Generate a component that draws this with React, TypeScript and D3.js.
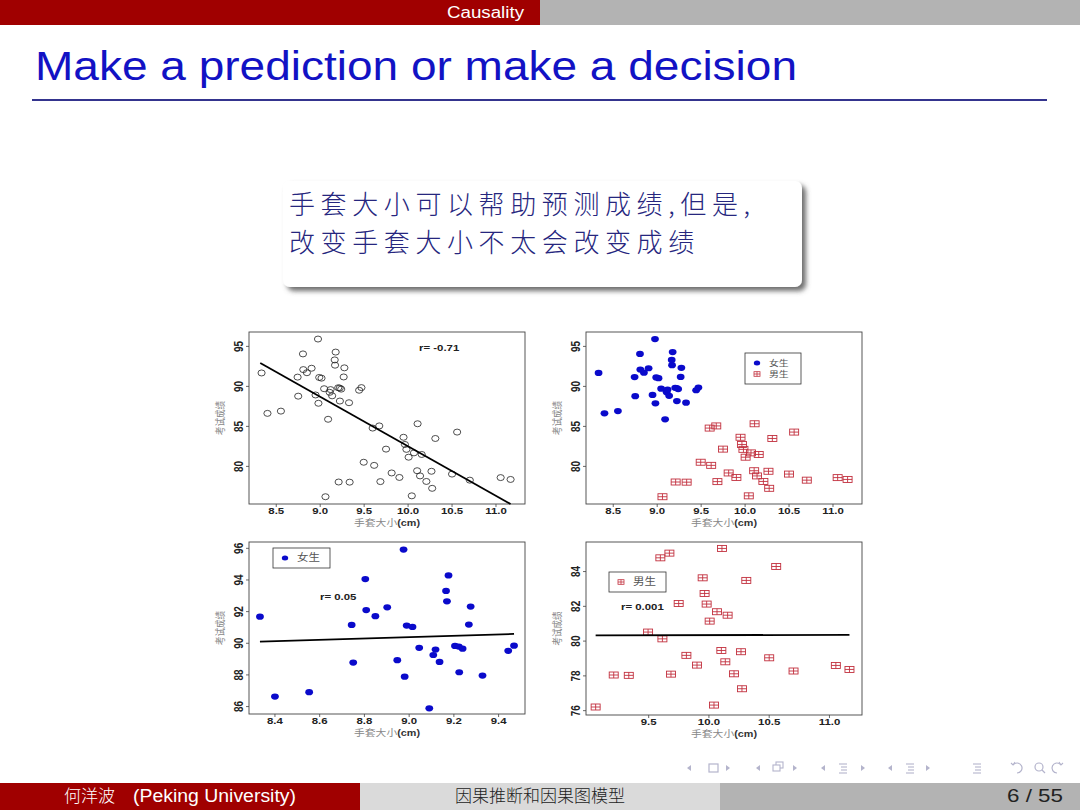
import React from 'react';
import * as d3 from 'd3';

// ---- data ----
const femaleX = [8.333, 8.40, 8.553, 8.743, 8.75, 8.804, 8.808, 8.849, 8.902, 8.947, 8.975, 8.98, 8.989, 9.015, 9.045, 9.09, 9.108, 9.118, 9.136, 9.165, 9.169, 9.176, 9.205, 9.222, 9.224, 9.239, 9.267, 9.275, 9.328, 9.443, 9.469];
const femaleY = [91.68, 86.63, 86.91, 91.16, 88.78, 94.06, 92.10, 91.71, 92.27, 88.93, 95.92, 87.89, 91.12, 91.03, 89.71, 85.89, 89.26, 89.60, 88.82, 93.31, 92.65, 94.29, 89.83, 89.79, 88.17, 89.66, 91.18, 92.32, 87.96, 89.52, 89.85];
const maleX = [9.06, 9.21, 9.335, 9.495, 9.597, 9.614, 9.672, 9.685, 9.749, 9.813, 9.901, 9.948, 9.964, 9.981, 10.006, 10.042, 10.067, 10.108, 10.103, 10.136, 10.155, 10.208, 10.274, 10.266, 10.31, 10.50, 10.558, 10.702, 11.053, 11.166];
const maleY = [76.21, 78.05, 78.03, 80.52, 84.79, 80.13, 85.06, 78.10, 82.16, 79.18, 78.62, 83.64, 82.74, 82.13, 81.15, 76.32, 81.69, 85.33, 79.46, 78.81, 81.49, 78.12, 77.26, 79.39, 83.49, 79.04, 84.29, 78.28, 78.60, 78.37];

const fitAllX = [8.318, 11.166];
const fitAllY = [92.92, 75.29];
const fitFemaleX = [8.333, 9.469];
const fitFemaleY = [90.10, 90.59];
const fitMaleX = [9.06, 11.166];
const fitMaleY = [80.33, 80.36];

const domainAllX = [8.19, 11.33];
const domainAllY = [75.3, 96.8];
const domainFemX = [8.284, 9.518];
const domainFemY = [85.53, 96.4];
const domainMaleX = [8.98, 11.27];
const domainMaleY = [75.75, 85.7];

const ticksAllX = [8.5, 9.0, 9.5, 10.0, 10.5, 11.0];
const ticksAllY = [80, 85, 90, 95];
const ticksFemX = [8.4, 8.6, 8.8, 9.0, 9.2, 9.4];
const ticksFemY = [86, 88, 90, 92, 94, 96];
const ticksMaleX = [9.5, 10.0, 10.5, 11.0];
const ticksMaleY = [76, 78, 80, 82, 84];

const rLabels = ['r= -0.71', 'r= 0.05', 'r= 0.001'];
const legendFemale = '女生';
const legendMale = '男生';
const xTitle = '手套大小';
const yTitle = '考试成绩';

const SANS = 'Liberation Sans, Arial, sans-serif';
const CJK = 'Noto Sans CJK SC, sans-serif';
const BLUE = '#0a0acb';
const RED = '#c2303e';

type Box = { x0: number; y0: number; x1: number; y1: number };
type Series = { xs: number[]; ys: number[]; kind: 'open' | 'blue' | 'red' };

function Marker({ kind, cx, cy }: { kind: string; cx: number; cy: number }) {
  if (kind === 'open') return <ellipse cx={cx} cy={cy} rx={3.6} ry={3} fill="none" stroke="#222" strokeWidth={0.8} />;
  if (kind === 'blue') return <ellipse cx={cx} cy={cy} rx={3.9} ry={3.1} fill={BLUE} />;
  return (
    <g stroke={RED} strokeWidth={0.9} fill="none">
      <rect x={cx - 4.5} y={cy - 3} width={9} height={6} />
      <line x1={cx - 4.5} x2={cx + 4.5} y1={cy} y2={cy} />
      <line x1={cx} x2={cx} y1={cy - 3} y2={cy + 3} />
    </g>
  );
}

function SText({ x, y, anchor = 'start', size = 10, weight = 'bold', fill = '#222', family = SANS, children }: any) {
  return (
    <text transform={`translate(${x},${y}) scale(1.2,1)`} textAnchor={anchor} fontSize={size} fontWeight={weight} fill={fill} fontFamily={family}>
      {children}
    </text>
  );
}

function Panel({ box, xDomain, yDomain, xTicks, yTicks, series, fitX, fitY, rText, rPos, legend }: any) {
  const x = d3.scaleLinear().domain(xDomain).range([box.x0, box.x1]);
  const y = d3.scaleLinear().domain(yDomain).range([box.y1, box.y0]);
  const fmtX = d3.format('.1f');
  const line = d3.line<number>().x((_, i) => x(fitX[i])).y((_, i) => y(fitY[i]));
  const cx = (box.x0 + box.x1) / 2;
  const cy = (box.y0 + box.y1) / 2;
  const n = legend ? legend.items.length : 0;
  const rowY = (i: number) => legend.y + legend.h / 2 + (i - (n - 1) / 2) * 11;
  return (
    <g>
      <rect x={box.x0} y={box.y0} width={box.x1 - box.x0} height={box.y1 - box.y0} fill="#fff" stroke="#444" strokeWidth={0.9} />
      {xTicks.map((t: number) => (
        <g key={'xt' + t}>
          <line x1={x(t)} x2={x(t)} y1={box.y1} y2={box.y1 + 3} stroke="#444" strokeWidth={0.8} />
          <SText x={x(t)} y={box.y1 + 9.5} anchor="middle" size={9.5}>{fmtX(t)}</SText>
        </g>
      ))}
      {yTicks.map((t: number) => (
        <g key={'yt' + t}>
          <line x1={box.x0 - 3} x2={box.x0} y1={y(t)} y2={y(t)} stroke="#444" strokeWidth={0.8} />
          <text transform={`translate(${box.x0 - 6},${y(t)}) rotate(-90) scale(1,1.2)`} textAnchor="middle" fontSize={10} fontWeight="bold" fill="#222" fontFamily={SANS}>{String(t)}</text>
        </g>
      ))}
      <text transform={`translate(${cx},${box.y1 + 21.5}) scale(1.2,1)`} textAnchor="middle" fontSize={9}>
        <tspan fontFamily={CJK} fill="#888">{xTitle}</tspan>
        <tspan fontFamily={SANS} fontWeight="bold" fill="#333">(cm)</tspan>
      </text>
      <text transform={`translate(${box.x0 - 25},${cy}) rotate(-90) scale(1,1.2)`} textAnchor="middle" fontSize={8.5} fill="#8a8a8a" fontFamily={CJK}>{yTitle}</text>
      {series.map((s: Series, si: number) =>
        s.xs.map((v, i) => <Marker key={si + '-' + i} kind={s.kind} cx={x(v)} cy={y(s.ys[i])} />)
      )}
      {fitX && <path d={line(fitX) || ''} fill="none" stroke="#000" strokeWidth={1.8} />}
      {rText && <SText x={rPos[0]} y={rPos[1]} size={9.5}>{rText}</SText>}
      {legend && (
        <g>
          <rect x={legend.x} y={legend.y} width={legend.w} height={legend.h} fill="#fff" stroke="#333" strokeWidth={0.8} />
          {legend.items.map((it: any, i: number) => (
            <g key={'lg' + i}>
              {it.kind === 'blue' ? (
                <ellipse cx={legend.x + 12} cy={rowY(i)} rx={3.2} ry={2.5} fill={BLUE} />
              ) : (
                <g stroke={RED} strokeWidth={0.8} fill="none">
                  <rect x={legend.x + 9} y={rowY(i) - 2.3} width={6} height={4.6} />
                  <line x1={legend.x + 12} x2={legend.x + 12} y1={rowY(i) - 2.3} y2={rowY(i) + 2.3} />
                  <line x1={legend.x + 9} x2={legend.x + 15} y1={rowY(i)} y2={rowY(i)} />
                </g>
              )}
              <text transform={`translate(${legend.x + 24},${rowY(i) + (n > 1 ? 2.8 : 3.4)}) scale(${n > 1 ? 1.3 : 1.15},1)`} fontSize={n > 1 ? 7.6 : 10} fill="#555" fontFamily={CJK}>{it.label}</text>
            </g>
          ))}
        </g>
      )}
    </g>
  );
}

function NavIcons() {
  const c = '#b4b4cc';
  const cy = 768;
  const left = [689, 758, 823, 890];
  const right = [728, 795, 863, 928];
  return (
    <g fill={c} stroke={c}>
      {left.map((v) => <path key={'l' + v} d={`M${v + 2},${cy - 3} L${v - 2},${cy} L${v + 2},${cy + 3} Z`} stroke="none" />)}
      {right.map((v) => <path key={'r' + v} d={`M${v - 2},${cy - 3} L${v + 2},${cy} L${v - 2},${cy + 3} Z`} stroke="none" />)}
      <rect x={709} y={764} width={9} height={8} fill="none" strokeWidth={1.2} />
      <rect x={776} y={762} width={7} height={6} fill="none" strokeWidth={1.1} />
      <rect x={773} y={765} width={7} height={6} fill="#fff" strokeWidth={1.1} />
      {[843, 910, 977].map((v) => (
        <g key={'m' + v} strokeWidth={1.1}>
          <line x1={v - 4} x2={v + 4} y1={cy - 4} y2={cy - 4} />
          <line x1={v - 2} x2={v + 4} y1={cy - 1} y2={cy - 1} />
          <line x1={v - 2} x2={v + 4} y1={cy + 2} y2={cy + 2} />
          <line x1={v - 4} x2={v + 4} y1={cy + 5} y2={cy + 5} />
        </g>
      ))}
      <path d={`M1013,${cy - 3} A5,5 0 1,1 1017,${cy + 5}`} fill="none" strokeWidth={1.2} />
      <path d={`M1011,${cy - 5} L1013,${cy - 3} L1015,${cy - 6}`} fill="none" strokeWidth={1.1} />
      <circle cx={1039} cy={cy - 1} r={4} fill="none" strokeWidth={1.2} />
      <line x1={1042} y1={cy + 2} x2={1045} y2={cy + 5} strokeWidth={1.3} />
      <path d={`M1061,${cy - 3} A5,5 0 1,0 1057,${cy + 5}`} fill="none" strokeWidth={1.2} />
      <path d={`M1063,${cy - 5} L1061,${cy - 3} L1059,${cy - 6}`} fill="none" strokeWidth={1.1} />
    </g>
  );
}

export default function App() {
  const box1: Box = { x0: 249, y0: 332, x1: 525, y1: 504 };
  const box2: Box = { x0: 586, y0: 332, x1: 862, y1: 504 };
  const box3: Box = { x0: 249, y0: 542, x1: 525, y1: 714 };
  const box4: Box = { x0: 586, y0: 542, x1: 862, y1: 715 };
  return (
    <svg width={1080} height={810} style={{ position: 'absolute', left: 0, top: 0, background: '#fff' }} xmlns="http://www.w3.org/2000/svg">
      <defs>
        <filter id="shadow" x="-10%" y="-20%" width="130%" height="150%">
          <feDropShadow dx={4} dy={4} stdDeviation={2.8} floodColor="#555" floodOpacity={0.85} />
        </filter>
      </defs>
      <rect x={0} y={0} width={1080} height={810} fill="#fff" />
      {/* header */}
      <rect x={0} y={0} width={540} height={25} fill="#a00000" />
      <rect x={540} y={0} width={540} height={25} fill="#b3b3b3" />
      <text x={447} y={18} fontSize={16} fill="#fff" fontFamily={SANS} textLength={77} lengthAdjust="spacingAndGlyphs">Causality</text>
      {/* title */}
      <text x={35} y={80} fontSize={40} fill="#1212c4" fontFamily={SANS} textLength={762} lengthAdjust="spacingAndGlyphs">Make a prediction or make a decision</text>
      <rect x={32} y={99} width={1015} height={2} fill="#34348e" />
      {/* callout */}
      <rect x={283} y={181} width={519} height={106} rx={7} fill="#fff" filter="url(#shadow)" />
      <text x={289} y={214} fontSize={26} fill="#26267e" fontFamily={CJK} fontWeight={300} letterSpacing={5.6}>手套大小可以帮助预测成绩,但是,</text>
      <text x={289} y={252} fontSize={26} fill="#26267e" fontFamily={CJK} fontWeight={300} letterSpacing={5.6}>改变手套大小不太会改变成绩</text>
      {/* panels */}
      <Panel box={box1} xDomain={domainAllX} yDomain={domainAllY} xTicks={ticksAllX} yTicks={ticksAllY}
        series={[{ xs: femaleX, ys: femaleY, kind: 'open' }, { xs: maleX, ys: maleY, kind: 'open' }]}
        fitX={fitAllX} fitY={fitAllY} rText={rLabels[0]} rPos={[419, 351]} />
      <Panel box={box2} xDomain={domainAllX} yDomain={domainAllY} xTicks={ticksAllX} yTicks={ticksAllY}
        series={[{ xs: femaleX, ys: femaleY, kind: 'blue' }, { xs: maleX, ys: maleY, kind: 'red' }]}
        legend={{ x: 745, y: 353, w: 56, h: 31, items: [{ kind: 'blue', label: legendFemale }, { kind: 'red', label: legendMale }] }} />
      <Panel box={box3} xDomain={domainFemX} yDomain={domainFemY} xTicks={ticksFemX} yTicks={ticksFemY}
        series={[{ xs: femaleX, ys: femaleY, kind: 'blue' }]}
        fitX={fitFemaleX} fitY={fitFemaleY} rText={rLabels[1]} rPos={[320, 600]}
        legend={{ x: 273, y: 548, w: 57, h: 20, items: [{ kind: 'blue', label: legendFemale }] }} />
      <Panel box={box4} xDomain={domainMaleX} yDomain={domainMaleY} xTicks={ticksMaleX} yTicks={ticksMaleY}
        series={[{ xs: maleX, ys: maleY, kind: 'red' }]}
        fitX={fitMaleX} fitY={fitMaleY} rText={rLabels[2]} rPos={[621, 610]}
        legend={{ x: 609, y: 572, w: 57, h: 20, items: [{ kind: 'red', label: legendMale }] }} />
      <NavIcons />
      {/* footer */}
      <rect x={0} y={783} width={360} height={27} fill="#a00000" />
      <rect x={360} y={783} width={360} height={27} fill="#dadada" />
      <rect x={720} y={783} width={360} height={27} fill="#b3b3b3" />
      <text x={64} y={802} fontSize={17} fill="#fff" fontFamily={CJK} fontWeight={300}>何洋波</text>
      <text x={133} y={802} fontSize={18} fill="#fff" fontFamily={SANS} textLength={163} lengthAdjust="spacingAndGlyphs">(Peking University)</text>
      <text x={540} y={802} textAnchor="middle" fontSize={17} fill="#222" fontFamily={CJK} fontWeight={300}>因果推断和因果图模型</text>
      <text x={1007} y={802} fontSize={18} fill="#222" fontFamily={SANS} textLength={56} lengthAdjust="spacingAndGlyphs">6 / 55</text>
    </svg>
  );
}
